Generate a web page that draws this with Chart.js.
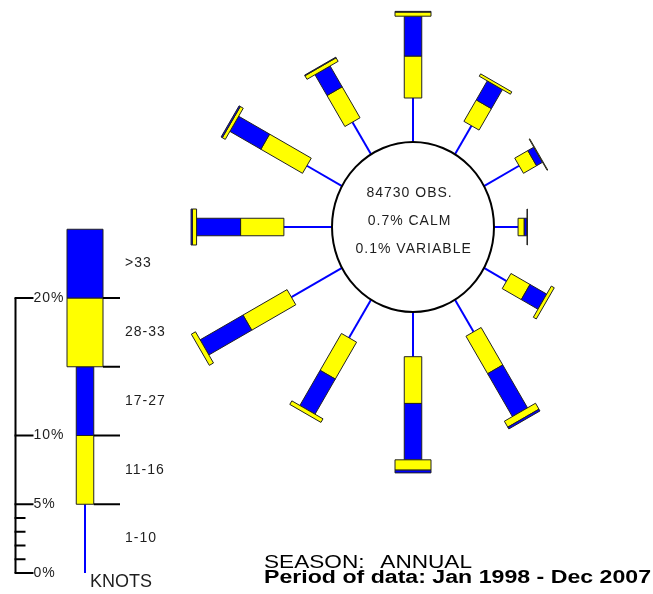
<!DOCTYPE html>
<html>
<head>
<meta charset="utf-8">
<script src="https://cdn.jsdelivr.net/npm/chart.js@4.4.0/dist/chart.umd.min.js"></script>
<style>
  html, body { margin: 0; padding: 0; background: #fff; }
  #wrap { width: 653px; height: 594px; }
</style>
</head>
<body>
<div id="wrap"><canvas id="myChart"></canvas></div>
<script>
// spoke directions, degrees clockwise from north
var directions = [0, 30, 60, 90, 120, 150, 180, 210, 240, 270, 300, 330];
var speedClasses = ["1-10", "11-16", "17-27", "28-33", ">33"];

// percent of observations in each speed class (knots), per direction
var kt1to10  = [3.2, 2.4, 2.95, 1.75, 1.9, 2.7, 3.25, 3.2, 4.25, 3.5, 2.95, 2.7];
var kt11to16 = [3.05, 1.8, 1.1, 0.45, 1.6, 3.15, 3.4, 3.1, 3.7, 3.15, 3.5, 2.6];
var kt17to27 = [2.9, 1.6, 0.5, 0.2, 1.4, 3.6, 4.1, 2.95, 3.6, 3.2, 2.6, 1.75];
var kt28to33 = [0.3, 0.2, 0.05, 0.03, 0.25, 0.5, 0.75, 0.3, 0.35, 0.3, 0.25, 0.3];
var ktOver33 = [0.05, 0, 0, 0, 0, 0.15, 0.2, 0, 0, 0.1, 0.1, 0.05];

// legend key: each class drawn as 5%
var legendStep = [5, 5, 5, 5, 5];
var legendTicks = [0, 1, 2, 3, 4, 5, 10, 20];
var legendTickLabels = ["0%", "", "", "", "", "5%", "10%", "20%"];

var infoLines = ["84730 OBS.", "0.7% CALM", "0.1% VARIABLE"];
var footLines = ["SEASON: ANNUAL", "Period of data: Jan 1998 - Dec 2007"];

// layout (1 unit = 1 percent)
var PX = 13.75;
var CALM_RX = 81 / PX, CALM_RY = 85 / PX;
var NARROW = 8.75 / PX, WIDE = 18 / PX;
var LEG_X = (85 - 413) / PX, LEG_Y = (227 - 573) / PX;
var AXIS_X = (15.5 - 413) / PX;

var YELLOW = "#ffff00", BLUE = "#0000ff", EDGE = "#222", TEXT = "#1e1e1e";
var FONT = "'Liberation Sans', Arial, sans-serif";

function px(chart, x, y) {
  return [chart.scales.x.getPixelForValue(x), chart.scales.y.getPixelForValue(y)];
}

function drawBar(ctx, chart, ox, oy, ux, uy, a, b, hw, color) {
  if (b - a <= 0) return;
  var vx = -uy, vy = ux;
  var pts = [
    [ox + ux * a + vx * hw, oy + uy * a + vy * hw],
    [ox + ux * b + vx * hw, oy + uy * b + vy * hw],
    [ox + ux * b - vx * hw, oy + uy * b - vy * hw],
    [ox + ux * a - vx * hw, oy + uy * a - vy * hw]
  ];
  ctx.beginPath();
  pts.forEach(function(p, i) {
    var q = px(chart, p[0], p[1]);
    if (i) ctx.lineTo(q[0], q[1]); else ctx.moveTo(q[0], q[1]);
  });
  ctx.closePath();
  ctx.fillStyle = color;
  ctx.fill();
  ctx.strokeStyle = EDGE;
  ctx.lineWidth = 1;
  ctx.stroke();
}

function drawLine(ctx, chart, x1, y1, x2, y2, color, w) {
  var p = px(chart, x1, y1), q = px(chart, x2, y2);
  ctx.beginPath();
  ctx.moveTo(p[0], p[1]);
  ctx.lineTo(q[0], q[1]);
  ctx.strokeStyle = color;
  ctx.lineWidth = w;
  ctx.stroke();
}

function drawText(ctx, chart, text, x, y) {
  var p = px(chart, x, y);
  ctx.fillText(text, p[0], p[1]);
}

function stretchText(ctx, chart, text, x, y, width) {
  var p = px(chart, x, y);
  var w = ctx.measureText(text).width;
  ctx.save();
  ctx.translate(p[0], p[1]);
  ctx.scale(width / w, 1);
  ctx.fillText(text, 0, 0);
  ctx.restore();
}

var windRose = {
  id: "windRose",
  afterDraw: function(chart) {
    var ctx = chart.ctx;
    ctx.save();

    // calm circle
    var c = px(chart, 0, 0);
    var rx = chart.scales.x.getPixelForValue(CALM_RX) - c[0];
    var ry = c[1] - chart.scales.y.getPixelForValue(CALM_RY);

    // spokes
    directions.forEach(function(deg, i) {
      var t = deg * Math.PI / 180;
      var ux = Math.sin(t), uy = Math.cos(t);
      var s0 = 1 / Math.sqrt(ux * ux / (CALM_RX * CALM_RX) + uy * uy / (CALM_RY * CALM_RY));
      var s1 = s0 + kt1to10[i];
      var s2 = s1 + kt11to16[i];
      var s3 = s2 + kt17to27[i];
      var s4 = s3 + kt28to33[i];
      var s5 = s4 + ktOver33[i];
      drawLine(ctx, chart, ux * s0, uy * s0, ux * s1, uy * s1, BLUE, 2);
      drawBar(ctx, chart, 0, 0, ux, uy, s1, s2, NARROW, YELLOW);
      drawBar(ctx, chart, 0, 0, ux, uy, s2, s3, NARROW, BLUE);
      drawBar(ctx, chart, 0, 0, ux, uy, s3, s4, WIDE, YELLOW);
      drawBar(ctx, chart, 0, 0, ux, uy, s4, s5, WIDE, BLUE);
    });

    ctx.beginPath();
    ctx.ellipse(c[0], c[1], rx, ry, 0, 0, Math.PI * 2);
    ctx.fillStyle = "#fff";
    ctx.fill();
    ctx.strokeStyle = "#000";
    ctx.lineWidth = 2;
    ctx.stroke();

    // centre text
    ctx.fillStyle = TEXT;
    ctx.font = "14px " + FONT;
    ctx.letterSpacing = "1px";
    ctx.textAlign = "center";
    ctx.textBaseline = "middle";
    infoLines.forEach(function(t, i) {
      drawText(ctx, chart, t, -0.25 + (i === 2 ? 0.3 : 0), 2.45 - i * 2.03);
    });

    // legend key bar
    var cum = [0];
    legendStep.forEach(function(v, i) { cum.push(cum[i] + v); });
    drawLine(ctx, chart, LEG_X, LEG_Y + cum[0], LEG_X, LEG_Y + cum[1], BLUE, 2);
    drawBar(ctx, chart, LEG_X, LEG_Y, 0, 1, cum[1], cum[2], NARROW, YELLOW);
    drawBar(ctx, chart, LEG_X, LEG_Y, 0, 1, cum[2], cum[3], NARROW, BLUE);
    drawBar(ctx, chart, LEG_X, LEG_Y, 0, 1, cum[3], cum[4], WIDE, YELLOW);
    drawBar(ctx, chart, LEG_X, LEG_Y, 0, 1, cum[4], cum[5], WIDE, BLUE);
    for (var k = 1; k <= 4; k++) {
      var hw = k <= 2 ? NARROW : WIDE;
      drawLine(ctx, chart, LEG_X + hw, LEG_Y + cum[k], LEG_X + 35 / PX, LEG_Y + cum[k], "#000", 2);
    }
    ctx.fillStyle = TEXT;
    ctx.textAlign = "left";
    speedClasses.forEach(function(s, i) {
      drawText(ctx, chart, s, LEG_X + 40 / PX, LEG_Y + (cum[i] + cum[i + 1]) / 2);
    });

    // legend percent axis
    drawLine(ctx, chart, AXIS_X, LEG_Y, AXIS_X, LEG_Y + 20, "#000", 2);
    legendTicks.forEach(function(v, i) {
      var len = legendTickLabels[i] ? 18 / PX : 10 / PX;
      drawLine(ctx, chart, AXIS_X - 0.07, LEG_Y + v, AXIS_X + len, LEG_Y + v, "#000", 2);
      if (legendTickLabels[i]) drawText(ctx, chart, legendTickLabels[i], AXIS_X + len, LEG_Y + v);
    });

    ctx.letterSpacing = "0px";
    ctx.textBaseline = "alphabetic";
    ctx.font = "18px " + FONT;
    drawText(ctx, chart, "KNOTS", (90 - 413) / PX, (227 - 586.5) / PX);

    // footer
    ctx.fillStyle = "#000";
    ctx.font = "19px " + FONT;
    ctx.wordSpacing = "8px";
    stretchText(ctx, chart, footLines[0], (264 - 413) / PX, (227 - 568) / PX, 208);
    ctx.wordSpacing = "0px";
    ctx.font = "bold 18px " + FONT;
    stretchText(ctx, chart, footLines[1], (264 - 413) / PX, (227 - 583) / PX, 387);

    ctx.restore();
  }
};

document.addEventListener("DOMContentLoaded", function() {
  var ctx = document.getElementById("myChart");
  new Chart(ctx, {
    type: "scatter",
    data: { datasets: [] },
    options: {
      responsive: true,
      maintainAspectRatio: false,
      animation: false,
      layout: { padding: 0 },
      plugins: { legend: { display: false }, tooltip: { enabled: false } },
      scales: {
        x: { type: "linear", display: false, min: -413 / PX, max: 240 / PX },
        y: { type: "linear", display: false, min: -367 / PX, max: 227 / PX }
      }
    },
    plugins: [windRose]
  });
});
</script>
</body>
</html>
